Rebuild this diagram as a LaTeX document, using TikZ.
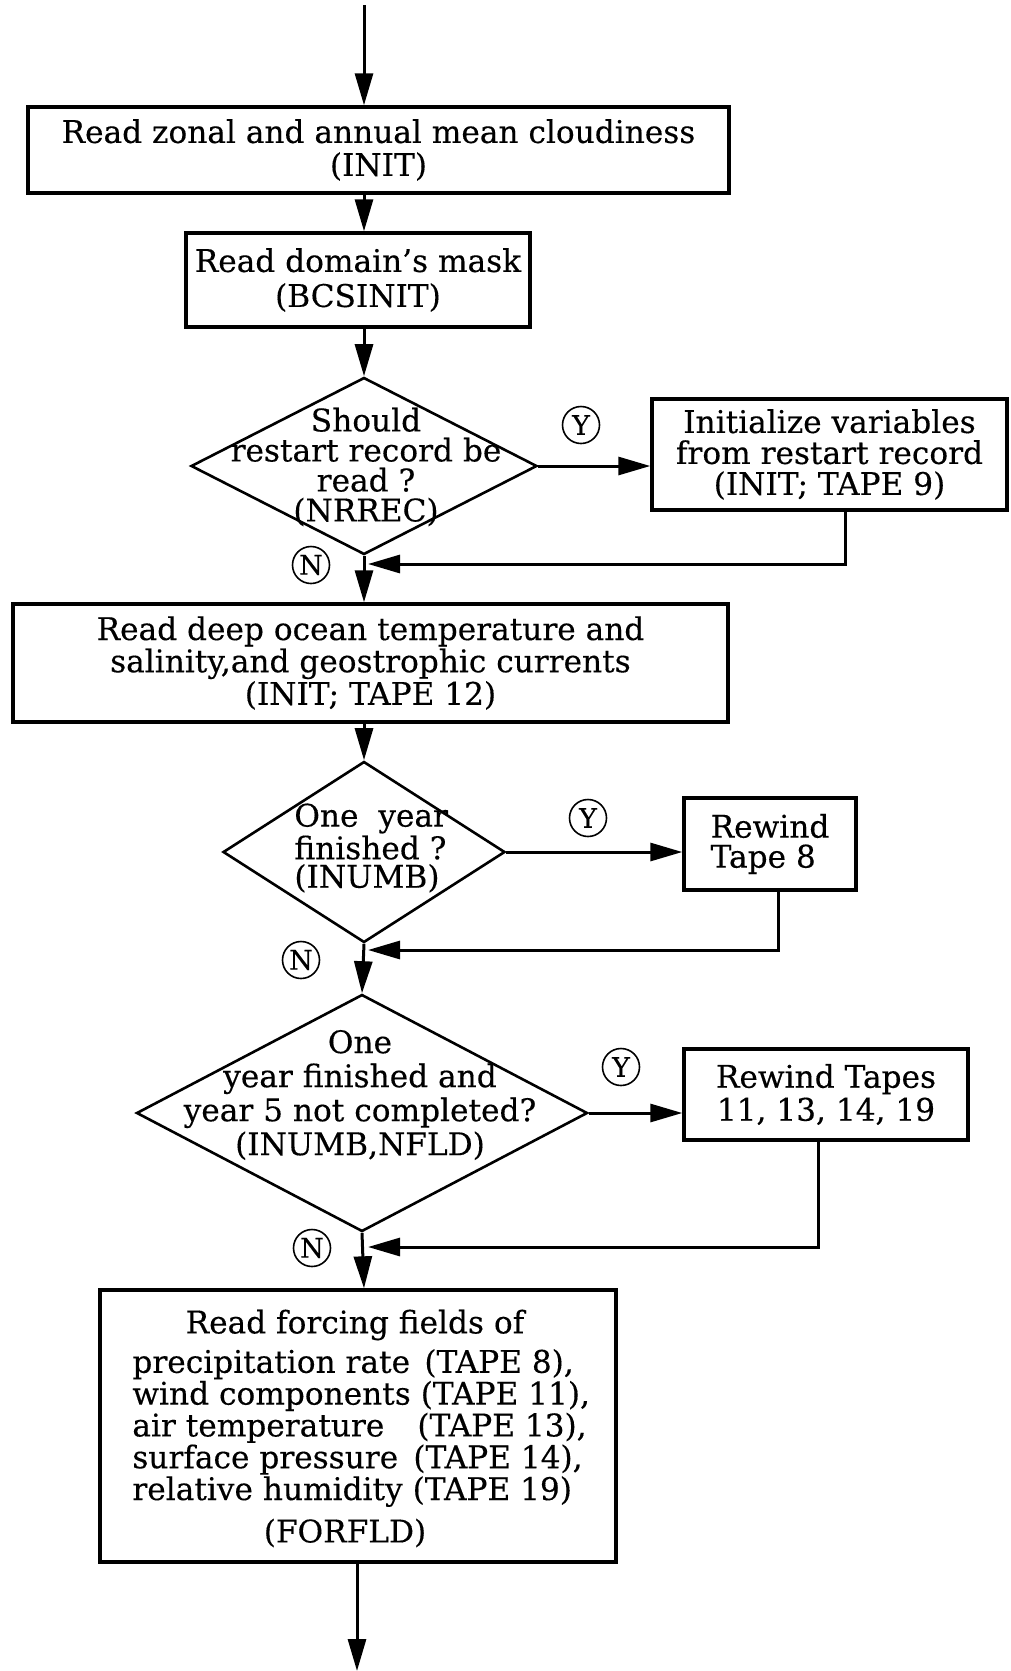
\documentclass[tikz,border=0pt]{standalone}
\usepackage{fontspec}
\setmainfont[FakeBold=0.3]{DejaVu Serif}
\usetikzlibrary{arrows.meta,shapes.geometric}
\begin{document}
\begin{tikzpicture}[x=0.5pt,y=-0.5pt,
  txt/.style={font=\fontsize{15.6}{16}\selectfont, inner sep=0pt, align=center},
  procbox/.style={draw, line width=1.7pt, inner sep=0pt, txt},
  decision/.style={draw, diamond, line width=1.3pt, inner sep=0pt, aspect=1},
  yn/.style={draw, circle, line width=0.8pt, inner sep=0pt, minimum size=18.5pt,
             font=\fontsize{13.5}{14}\selectfont},
  flow/.style={line width=1.5pt, -{Triangle[length=16pt,width=9pt]}}]

\useasboundingbox (0,0) rectangle (1011,1671);

% trunk of the chart and its free ends
\coordinate (tk) at (364,0);
\coordinate (start) at (364,5);
\coordinate (finish) at (357,1671);

% process boxes
\node[procbox, font=\fontsize{15.6}{16.5}\selectfont, minimum width=350.5pt, minimum height=43pt] (box1) at (378.5,150)
  {Read zonal and annual mean cloudiness\\(INIT)};
\node[procbox, font=\fontsize{15.6}{17.5}\selectfont, minimum width=172pt, minimum height=47pt] (box2) at (358,280)
  {Read domain’s mask\\(BCSINIT)};
\node[procbox, font=\fontsize{15.6}{15.5}\selectfont, minimum width=177.5pt, minimum height=55.5pt] (box3) at (829.5,454.5)
  {Initialize variables\\from restart record\\(INIT; TAPE 9)};
\node[procbox, font=\fontsize{15.6}{15}\selectfont, minimum width=357.5pt, minimum height=59pt] (box4) at (370.5,663)
  {Read deep ocean temperature and\\salinity,and geostrophic currents\\(INIT; TAPE 12)};
\node[procbox, align=left, font=\fontsize{15.6}{15}\selectfont, minimum width=86pt, minimum height=46pt] (box5) at (770,844)
  {Rewind\\Tape 8};
\node[procbox, font=\fontsize{15.6}{16.5}\selectfont, minimum width=142pt, minimum height=45.5pt] (box6) at (826,1094.5)
  {Rewind Tapes\\11, 13, 14, 19};
\node[procbox, minimum width=258pt, minimum height=136pt] (box7) at (358,1426) {};

% contents of the forcing-field box
\node[txt] (f1) at (355,1325) {Read forcing fields of};
\node[txt, align=left, anchor=west, font=\fontsize{15.6}{15.9}\selectfont] (f2) at (132,1428)
  {\makebox[146pt][l]{precipitation rate}(TAPE 8),\\
   wind components (TAPE 11),\\
   \makebox[142.5pt][l]{air temperature}(TAPE 13),\\
   \makebox[140.5pt][l]{surface pressure}(TAPE 14),\\
   relative humidity (TAPE 19)};
\node[txt] (f3) at (345,1533) {(FORFLD)};

% decisions
\node[decision, minimum width=173pt, minimum height=88.5pt] (d1) at (364,466) {};
\node[txt, font=\fontsize{15.6}{15}\selectfont] (d1t) at (366,467)
  {Should\\restart record be\\read ?\\(NRREC)};
\node[decision, minimum width=141pt, minimum height=90.5pt] (d2) at (364,852) {};
\node[txt, align=left, anchor=west, font=\fontsize{15.6}{14.25}\selectfont] (d2t) at (294,848)
  {One\ \ year\\finished ?\\(INUMB)};
\node[decision, minimum width=225.5pt, minimum height=118.5pt] (d3) at (362,1113) {};
\node[txt, font=\fontsize{15.6}{17}\selectfont] (d3t) at (360,1095)
  {One\\year finished and\\year 5 not completed?\\(INUMB,NFLD)};

% yes / no marks
\node[yn] (y1) at (581,425) {Y};
\node[yn] (y2) at (588,818) {Y};
\node[yn] (y3) at (621,1067) {Y};
\node[yn] (n1) at (311,565) {N};
\node[yn] (n2) at (301,960) {N};
\node[yn] (n3) at (312,1248) {N};

% return corners
\coordinate (r1) at (845,564);
\coordinate (r2) at (778,950);
\coordinate (r3) at (818,1247);

% main flow
\draw[flow] (start) -- (tk |- box1.north);
\draw[flow] (tk |- box1.south) -- (tk |- box2.north);
\draw[flow] (tk |- box2.south) -- (d1.north);
\draw[flow] (d1.south) -- (tk |- box4.north);
\draw[flow] (tk |- box4.south) -- (d2.north);
\draw[flow] (d2.south) -- (d3.north);
\draw[flow] (d3.south) -- (tk |- box7.north);
\draw[flow] (finish |- box7.south) -- (finish);

% yes branches
\draw[flow] (d1.east) -- (d1.east -| box3.west);
\draw[flow] (d2.east) -- (d2.east -| box5.west);
\draw[flow] (d3.east) -- (d3.east -| box6.west);

% rejoining lines
\draw[flow, shorten >=2pt] (r1 |- box3.south) -- (r1) -- (tk |- r1);
\draw[flow, shorten >=2pt] (r2 |- box5.south) -- (r2) -- (tk |- r2);
\draw[flow, shorten >=2pt] (r3 |- box6.south) -- (r3) -- (tk |- r3);
\end{tikzpicture}
\end{document}
